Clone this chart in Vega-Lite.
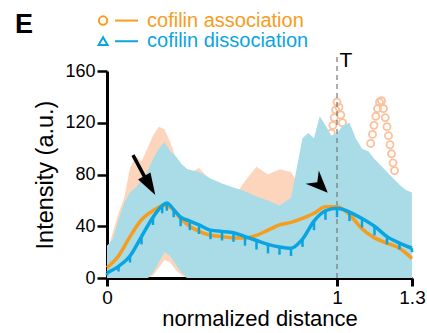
{
  "$schema": "https://vega.github.io/schema/vega-lite/v6.json",
  "width": 305,
  "height": 207,
  "autosize": {"type": "none"},
  "padding": {"left": 107, "top": 71, "right": 15, "bottom": 55},
  "background": "white",
  "config": {
    "view": {"stroke": null},
    "font": "Liberation Sans",
    "axis": {
      "grid": false,
      "domainColor": "black",
      "domainWidth": 3,
      "tickColor": "black",
      "labelColor": "black",
      "labelFont": "Liberation Sans",
      "titleFont": "Liberation Sans",
      "titleFontWeight": "normal",
      "titleColor": "black"
    },
    "axisX": {"tickWidth": 3, "tickSize": 8, "labelPadding": 2, "labelFontSize": 19, "labelFlush": false, "labelOverlap": false, "titleFontSize": 22, "titlePadding": 1},
    "axisY": {"tickWidth": 2.5, "tickSize": 10, "labelPadding": 2, "labelFontSize": 18, "titleFontSize": 23.5, "titlePadding": 7}
  },
  "datasets": {
    "cloud": [
      {"x": 0, "bhi": 25, "ohi": 20, "blo": 0, "olo": 0},
      {"x": 0.025, "bhi": 30, "ohi": 35, "blo": 0, "olo": 0},
      {"x": 0.05, "bhi": 45, "ohi": 50, "blo": 0, "olo": 0},
      {"x": 0.075, "bhi": 58, "ohi": 62, "blo": 0, "olo": 0},
      {"x": 0.1, "bhi": 66, "ohi": 85, "blo": 0, "olo": 0},
      {"x": 0.125, "bhi": 70, "ohi": 94, "blo": 0, "olo": 0},
      {"x": 0.15, "bhi": 76, "ohi": 90, "blo": 0, "olo": 0},
      {"x": 0.175, "bhi": 82, "ohi": 100, "blo": 0, "olo": 0},
      {"x": 0.2, "bhi": 92, "ohi": 110, "blo": 4, "olo": 2},
      {"x": 0.225, "bhi": 100, "ohi": 117, "blo": 12, "olo": 8},
      {"x": 0.25, "bhi": 105, "ohi": 115, "blo": 20, "olo": 14},
      {"x": 0.275, "bhi": 98, "ohi": 105, "blo": 17, "olo": 12},
      {"x": 0.3, "bhi": 94, "ohi": 92, "blo": 10, "olo": 6},
      {"x": 0.325, "bhi": 88, "ohi": 86, "blo": 4, "olo": 2},
      {"x": 0.35, "bhi": 84, "ohi": 80, "blo": 0, "olo": 0},
      {"x": 0.4, "bhi": 82, "ohi": 85, "blo": 0, "olo": 0},
      {"x": 0.45, "bhi": 77, "ohi": 76, "blo": 0, "olo": 0},
      {"x": 0.5, "bhi": 73, "ohi": 68, "blo": 0, "olo": 0},
      {"x": 0.55, "bhi": 70, "ohi": 62, "blo": 0, "olo": 0},
      {"x": 0.6, "bhi": 67, "ohi": 75, "blo": 0, "olo": 0},
      {"x": 0.65, "bhi": 63, "ohi": 86, "blo": 0, "olo": 0},
      {"x": 0.7, "bhi": 60, "ohi": 80, "blo": 0, "olo": 0},
      {"x": 0.75, "bhi": 56, "ohi": 84, "blo": 0, "olo": 0},
      {"x": 0.8, "bhi": 62, "ohi": 82, "blo": 0, "olo": 0},
      {"x": 0.825, "bhi": 85, "ohi": 75, "blo": 0, "olo": 0},
      {"x": 0.85, "bhi": 108, "ohi": 80, "blo": 0, "olo": 0},
      {"x": 0.875, "bhi": 112, "ohi": 88, "blo": 0, "olo": 0},
      {"x": 0.9, "bhi": 108, "ohi": 90, "blo": 0, "olo": 0},
      {"x": 0.925, "bhi": 125, "ohi": 95, "blo": 0, "olo": 0},
      {"x": 0.95, "bhi": 118, "ohi": 98, "blo": 0, "olo": 0},
      {"x": 0.975, "bhi": 110, "ohi": 100, "blo": 0, "olo": 0},
      {"x": 1.0, "bhi": 112, "ohi": 100, "blo": 0, "olo": 0},
      {"x": 1.025, "bhi": 118, "ohi": 95, "blo": 0, "olo": 0},
      {"x": 1.05, "bhi": 120, "ohi": 92, "blo": 0, "olo": 0},
      {"x": 1.075, "bhi": 108, "ohi": 85, "blo": 0, "olo": 0},
      {"x": 1.1, "bhi": 100, "ohi": 82, "blo": 0, "olo": 0},
      {"x": 1.125, "bhi": 98, "ohi": 80, "blo": 0, "olo": 0},
      {"x": 1.15, "bhi": 92, "ohi": 78, "blo": 0, "olo": 0},
      {"x": 1.2, "bhi": 82, "ohi": 72, "blo": 0, "olo": 0},
      {"x": 1.25, "bhi": 72, "ohi": 62, "blo": 0, "olo": 0},
      {"x": 1.275, "bhi": 68, "ohi": 55, "blo": 0, "olo": 0},
      {"x": 1.3, "bhi": 66, "ohi": 45, "blo": 0, "olo": 0}
    ],
    "ocircles": [
      {"x": 0.955, "y": 94}, {"x": 0.96, "y": 100}, {"x": 0.968, "y": 106}, {"x": 0.975, "y": 112},
      {"x": 0.982, "y": 118}, {"x": 0.988, "y": 124}, {"x": 0.994, "y": 130}, {"x": 1.0, "y": 136},
      {"x": 1.008, "y": 132}, {"x": 1.015, "y": 126}, {"x": 1.022, "y": 120}, {"x": 1.03, "y": 113},
      {"x": 1.04, "y": 106}, {"x": 1.05, "y": 99}, {"x": 1.06, "y": 93},
      {"x": 1.135, "y": 104}, {"x": 1.142, "y": 111}, {"x": 1.148, "y": 118}, {"x": 1.155, "y": 125},
      {"x": 1.162, "y": 131}, {"x": 1.17, "y": 136}, {"x": 1.178, "y": 137}, {"x": 1.186, "y": 131},
      {"x": 1.193, "y": 124}, {"x": 1.2, "y": 117}, {"x": 1.206, "y": 110}, {"x": 1.212, "y": 103},
      {"x": 1.218, "y": 96}, {"x": 1.224, "y": 89}, {"x": 1.23, "y": 83}
    ],
    "blue": [
      {"x": 0, "y": 4, "lo": 2}, {"x": 0.05, "y": 9, "lo": 5}, {"x": 0.1, "y": 17, "lo": 12},
      {"x": 0.15, "y": 32, "lo": 26}, {"x": 0.2, "y": 47, "lo": 41}, {"x": 0.24, "y": 56, "lo": 50},
      {"x": 0.26, "y": 58, "lo": 52}, {"x": 0.29, "y": 53, "lo": 47}, {"x": 0.32, "y": 47, "lo": 40},
      {"x": 0.36, "y": 44, "lo": 37}, {"x": 0.4, "y": 41, "lo": 34}, {"x": 0.45, "y": 37, "lo": 30},
      {"x": 0.5, "y": 36, "lo": 29}, {"x": 0.55, "y": 35, "lo": 28}, {"x": 0.6, "y": 32, "lo": 25},
      {"x": 0.65, "y": 29, "lo": 22}, {"x": 0.7, "y": 26, "lo": 19}, {"x": 0.75, "y": 24, "lo": 18},
      {"x": 0.8, "y": 23, "lo": 17}, {"x": 0.85, "y": 30, "lo": 24}, {"x": 0.9, "y": 44, "lo": 37},
      {"x": 0.95, "y": 52, "lo": 45}, {"x": 1.0, "y": 54, "lo": 47}, {"x": 1.05, "y": 51, "lo": 44},
      {"x": 1.1, "y": 46, "lo": 39}, {"x": 1.15, "y": 40, "lo": 33}, {"x": 1.2, "y": 32, "lo": 26},
      {"x": 1.25, "y": 27, "lo": 22}, {"x": 1.3, "y": 23, "lo": 20}
    ],
    "orange": [
      {"x": 0, "y": 8}, {"x": 0.05, "y": 17}, {"x": 0.1, "y": 32}, {"x": 0.15, "y": 45},
      {"x": 0.2, "y": 52}, {"x": 0.25, "y": 56}, {"x": 0.28, "y": 54}, {"x": 0.32, "y": 46},
      {"x": 0.36, "y": 40}, {"x": 0.4, "y": 36}, {"x": 0.45, "y": 33}, {"x": 0.5, "y": 32},
      {"x": 0.55, "y": 31}, {"x": 0.6, "y": 31}, {"x": 0.65, "y": 33}, {"x": 0.7, "y": 37},
      {"x": 0.75, "y": 41}, {"x": 0.8, "y": 43}, {"x": 0.85, "y": 46}, {"x": 0.9, "y": 50},
      {"x": 0.95, "y": 55}, {"x": 1.0, "y": 55}, {"x": 1.05, "y": 49}, {"x": 1.1, "y": 38},
      {"x": 1.15, "y": 31}, {"x": 1.2, "y": 27}, {"x": 1.25, "y": 23}, {"x": 1.3, "y": 15}
    ]
  },
  "layer": [
    {
      "data": {"name": "cloud"},
      "mark": {"type": "area", "color": "#fdd5bd", "interpolate": "linear"},
      "encoding": {
        "x": {"field": "x", "type": "quantitative",
              "scale": {"domain": [0, 1, 1.3], "range": [0, 230, 305]},
              "axis": {"values": [0, 1, 1.3], "format": "~g", "title": "normalized distance"}},
        "y": {"field": "ohi", "type": "quantitative",
              "scale": {"domain": [0, 160], "nice": false},
              "axis": {"values": [0, 40, 80, 120, 160], "title": "Intensity (a.u.)"}},
        "y2": {"field": "olo"}
      }
    },
    {
      "data": {"name": "ocircles"},
      "mark": {"type": "point", "shape": "circle", "filled": false, "stroke": "#fcc09b", "strokeWidth": 1.8, "size": 50, "opacity": 1},
      "encoding": {
        "x": {"field": "x", "type": "quantitative"},
        "y": {"field": "y", "type": "quantitative"}
      }
    },
    {
      "data": {"name": "cloud"},
      "mark": {"type": "area", "color": "#a9dce7", "interpolate": "linear"},
      "encoding": {
        "x": {"field": "x", "type": "quantitative"},
        "y": {"field": "bhi", "type": "quantitative"},
        "y2": {"field": "blo"}
      }
    },
    {
      "data": {"values": [{"x": 1, "y": 0, "y2": 172}]},
      "mark": {"type": "rule", "color": "#777777", "strokeWidth": 1.2, "strokeDash": [5, 4]},
      "encoding": {
        "x": {"field": "x", "type": "quantitative"},
        "y": {"field": "y", "type": "quantitative"},
        "y2": {"field": "y2"}
      }
    },
    {
      "data": {"name": "orange"},
      "mark": {"type": "line", "color": "#f89c1c", "strokeWidth": 3.5, "interpolate": "monotone"},
      "encoding": {
        "x": {"field": "x", "type": "quantitative"},
        "y": {"field": "y", "type": "quantitative"}
      }
    },
    {
      "data": {"name": "blue"},
      "mark": {"type": "rule", "color": "#0aa5e0", "strokeWidth": 2.5},
      "encoding": {
        "x": {"field": "x", "type": "quantitative"},
        "y": {"field": "y", "type": "quantitative"},
        "y2": {"field": "lo"}
      }
    },
    {
      "data": {"name": "blue"},
      "mark": {"type": "line", "color": "#0aa5e0", "strokeWidth": 3.5, "interpolate": "monotone"},
      "encoding": {
        "x": {"field": "x", "type": "quantitative"},
        "y": {"field": "y", "type": "quantitative"}
      }
    },
    {
      "data": {"values": [{"x": 0.113, "y": 95, "x2": 0.188, "y2": 70}]},
      "mark": {"type": "rule", "color": "black", "strokeWidth": 3.5},
      "encoding": {
        "x": {"field": "x", "type": "quantitative"},
        "y": {"field": "y", "type": "quantitative"},
        "x2": {"field": "x2"},
        "y2": {"field": "y2"}
      }
    },
    {
      "data": {"values": [{"x": 0.186, "y": 71.5}]},
      "mark": {"type": "point", "shape": "M0,-1L0.65,1L-0.65,1Z", "filled": true, "color": "black", "opacity": 1, "size": 484, "angle": 150},
      "encoding": {
        "x": {"field": "x", "type": "quantitative"},
        "y": {"field": "y", "type": "quantitative"}
      }
    },
    {
      "data": {"values": [{"x": 0.926, "y": 72}]},
      "mark": {"type": "point", "shape": "M0,-1L0.85,1L0,0.35L-0.85,1Z", "filled": true, "color": "black", "opacity": 1, "size": 484, "angle": 135},
      "encoding": {
        "x": {"field": "x", "type": "quantitative"},
        "y": {"field": "y", "type": "quantitative"}
      }
    },
    {
      "data": {"values": [{"x": -0.361, "y": 195.6, "t": "E"}]},
      "mark": {"type": "text", "fontSize": 27, "fontWeight": "bold", "color": "black", "align": "center", "baseline": "middle"},
      "encoding": {
        "x": {"field": "x", "type": "quantitative"},
        "y": {"field": "y", "type": "quantitative"},
        "text": {"field": "t"}
      }
    },
    {
      "data": {"values": [{"x": 1.036, "y": 168, "t": "T"}]},
      "mark": {"type": "text", "fontSize": 21, "color": "black", "align": "center", "baseline": "middle"},
      "encoding": {
        "x": {"field": "x", "type": "quantitative"},
        "y": {"field": "y", "type": "quantitative"},
        "text": {"field": "t"}
      }
    },
    {
      "data": {"values": [{"x": -0.017, "y": 199}]},
      "mark": {"type": "point", "shape": "circle", "filled": false, "stroke": "#f89c1c", "strokeWidth": 2, "size": 70, "opacity": 1},
      "encoding": {
        "x": {"field": "x", "type": "quantitative"},
        "y": {"field": "y", "type": "quantitative"}
      }
    },
    {
      "data": {"values": [{"x": -0.017, "y": 183}]},
      "mark": {"type": "point", "shape": "triangle-up", "filled": false, "stroke": "#0aa5e0", "strokeWidth": 2, "size": 80, "opacity": 1},
      "encoding": {
        "x": {"field": "x", "type": "quantitative"},
        "y": {"field": "y", "type": "quantitative"}
      }
    },
    {
      "data": {"values": [{"x": 0.035, "x2": 0.135, "y": 199}]},
      "mark": {"type": "rule", "color": "#f89c1c", "strokeWidth": 2},
      "encoding": {
        "x": {"field": "x", "type": "quantitative"},
        "x2": {"field": "x2"},
        "y": {"field": "y", "type": "quantitative"}
      }
    },
    {
      "data": {"values": [{"x": 0.035, "x2": 0.135, "y": 183}]},
      "mark": {"type": "rule", "color": "#0aa5e0", "strokeWidth": 2},
      "encoding": {
        "x": {"field": "x", "type": "quantitative"},
        "x2": {"field": "x2"},
        "y": {"field": "y", "type": "quantitative"}
      }
    },
    {
      "data": {"values": [{"x": 0.174, "y": 199, "t": "cofilin association"}]},
      "mark": {"type": "text", "fontSize": 20, "color": "#f89c1c", "align": "left", "baseline": "middle"},
      "encoding": {
        "x": {"field": "x", "type": "quantitative"},
        "y": {"field": "y", "type": "quantitative"},
        "text": {"field": "t"}
      }
    },
    {
      "data": {"values": [{"x": 0.174, "y": 183, "t": "cofilin dissociation"}]},
      "mark": {"type": "text", "fontSize": 20, "color": "#0aa5e0", "align": "left", "baseline": "middle"},
      "encoding": {
        "x": {"field": "x", "type": "quantitative"},
        "y": {"field": "y", "type": "quantitative"},
        "text": {"field": "t"}
      }
    }
  ]
}
